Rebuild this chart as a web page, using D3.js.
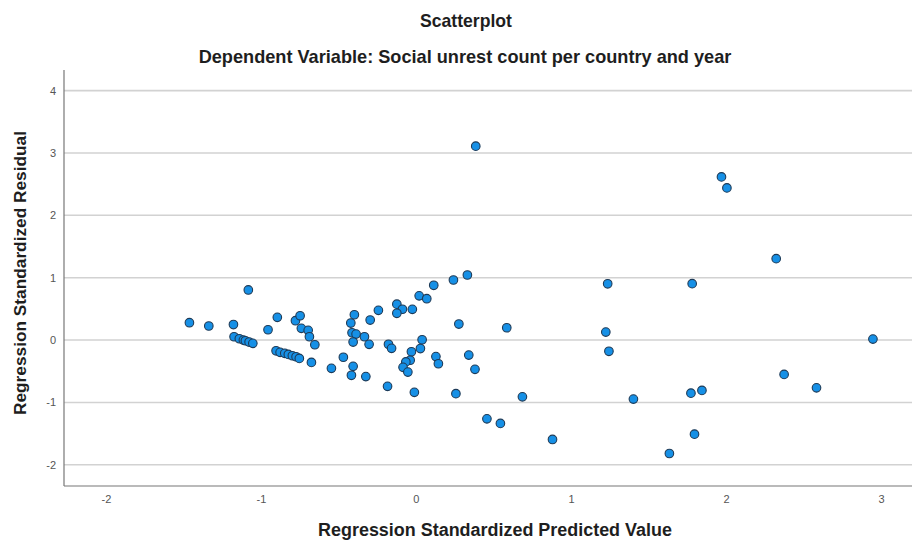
<!DOCTYPE html>
<html>
<head>
<meta charset="utf-8">
<script src="https://cdn.jsdelivr.net/npm/d3@7/dist/d3.min.js"></script>
<style>
  html, body { margin: 0; padding: 0; background: #fff; }
  svg { display: block; }
  text { font-family: "Liberation Sans", Arial, "DejaVu Sans", sans-serif; }
  .narrow { font-family: "Liberation Sans Narrow", "Arial Narrow", "Liberation Sans", Arial, sans-serif; }
</style>
</head>
<body>
<svg id="chart" width="912" height="541"></svg>
<script>
// ---- data ----
const chartTitle = "Scatterplot";
const chartSubtitle = "Dependent Variable: Social unrest count per country and year";
const xLabel = "Regression Standardized Predicted Value";
const yLabel = "Regression Standardized Residual";

const xTicks = [-2, -1, 0, 1, 2, 3];
const yTicks = [-2, -1, 0, 1, 2, 3, 4];

const predicted = [
  -1.461, -1.336, -1.177, -1.081, -1.173, -1.139, -1.113, -1.100, -1.076, -1.052,
  -0.954, -0.894, -0.777, -0.747, -0.739, -0.695, -0.687, -0.652, -0.902, -0.876,
  -0.846, -0.823, -0.797, -0.773, -0.752, -0.674, -0.545, -0.468, -0.420, -0.397,
  -0.412, -0.386, -0.405, -0.405, -0.416, -0.332, -0.302, -0.295, -0.242, -0.323,
  -0.183, -0.177, -0.157, -0.123, -0.087, -0.123, -0.023, 0.021, 0.070, 0.115,
  0.242, 0.332, 0.277, 0.040, 0.029, -0.029, -0.037, -0.065, -0.083, -0.052,
  -0.010, 0.129, 0.145, 0.341, 0.381, 0.258, 0.386, 0.458, 0.545, 0.586,
  0.687, 0.881, 1.237, 1.225, 1.245, 1.403, 1.635, 1.774, 1.782, 1.797,
  1.845, 1.971, 2.006, 2.324, 2.375, 2.584, 2.948
];
const residual = [
  0.278, 0.225, 0.249, 0.803, 0.053, 0.021, 0.000, -0.011, -0.032, -0.053,
  0.165, 0.364, 0.310, 0.390, 0.188, 0.156, 0.053, -0.075, -0.172, -0.197,
  -0.213, -0.230, -0.252, -0.268, -0.294, -0.358, -0.454, -0.276, 0.273, 0.406,
  0.117, 0.096, -0.032, -0.421, -0.565, 0.053, -0.069, 0.321, 0.477, -0.586,
  -0.742, -0.067, -0.133, 0.575, 0.494, 0.429, 0.493, 0.709, 0.663, 0.878,
  0.963, 1.043, 0.257, 0.005, -0.136, -0.188, -0.324, -0.350, -0.437, -0.514,
  -0.838, -0.265, -0.380, -0.241, -0.469, -0.859, 3.109, -1.263, -1.337, 0.197,
  -0.910, -1.594, 0.902, 0.128, -0.180, -0.947, -1.819, -0.851, 0.904, -1.509,
  -0.807, 2.616, 2.440, 1.305, -0.551, -0.766, 0.016
];

// ---- layout ----
const plot = { left: 64, right: 912, top: 70, bottom: 486 };

const x = d3.scaleLinear().domain([-2.27, 3.2]).range([plot.left, plot.right]);
const y = d3.scaleLinear().domain([-2.34, 4.33]).range([plot.bottom, plot.top]);

const svg = d3.select("#chart");

function fitText(sel, targetWidth) {
  const node = sel.node();
  const size = parseFloat(sel.attr("font-size"));
  const len = node.getComputedTextLength();
  if (len > 0) sel.attr("font-size", (size * targetWidth / len).toFixed(2));
}

// titles
const t1 = svg.append("text").attr("class", "narrow")
  .attr("x", 466).attr("y", 27)
  .attr("text-anchor", "middle")
  .attr("font-size", 16).attr("font-weight", "bold").attr("fill", "#1e1e1e")
  .text(chartTitle);
fitText(t1, 92);
const t2 = svg.append("text").attr("class", "narrow")
  .attr("x", 465).attr("y", 63)
  .attr("text-anchor", "middle")
  .attr("font-size", 16).attr("font-weight", "bold").attr("fill", "#1e1e1e")
  .text(chartSubtitle);
fitText(t2, 533);

// grid lines
svg.append("g").selectAll("line")
  .data(yTicks)
  .join("line")
  .attr("x1", plot.left).attr("x2", plot.right)
  .attr("y1", d => y(d)).attr("y2", d => y(d))
  .attr("stroke", "#d2d2d2").attr("stroke-width", 1.6);

const fmt = d => String(d);

// y axis
const yAxis = svg.append("g")
  .attr("transform", `translate(${plot.left},0)`)
  .call(d3.axisLeft(y).tickValues(yTicks).tickSize(0).tickPadding(8).tickFormat(fmt));
yAxis.select(".domain").remove();
yAxis.selectAll("text")
  .attr("font-size", 11).attr("fill", "#555")
  .style("font-family", "'Liberation Sans', Arial, sans-serif");

// x axis
const xAxis = svg.append("g")
  .attr("transform", `translate(0,${plot.bottom})`)
  .call(d3.axisBottom(x).tickValues(xTicks).tickSize(0).tickPadding(9).tickFormat(fmt));
xAxis.select(".domain").remove();
xAxis.selectAll("text")
  .attr("font-size", 11).attr("fill", "#555")
  .style("font-family", "'Liberation Sans', Arial, sans-serif");

// frame lines (left + bottom)
svg.append("line")
  .attr("x1", plot.left).attr("x2", plot.left)
  .attr("y1", plot.top).attr("y2", plot.bottom)
  .attr("stroke", "#777").attr("stroke-width", 1.2);
svg.append("line")
  .attr("x1", plot.left).attr("x2", plot.right)
  .attr("y1", plot.bottom).attr("y2", plot.bottom)
  .attr("stroke", "#777").attr("stroke-width", 1.2);

// axis titles
const xl = svg.append("text").attr("class", "narrow")
  .attr("x", 495).attr("y", 536)
  .attr("text-anchor", "middle")
  .attr("font-size", 17).attr("font-weight", "bold").attr("fill", "#1e1e1e")
  .text(xLabel);
fitText(xl, 354);
const yl = svg.append("text").attr("class", "narrow")
  .attr("transform", `translate(26,${273}) rotate(-90)`)
  .attr("text-anchor", "middle")
  .attr("font-size", 17).attr("font-weight", "bold").attr("fill", "#1e1e1e")
  .text(yLabel);
fitText(yl, 284);

// points
const pts = predicted.map((p, i) => ({ p, r: residual[i] }));
svg.append("g").selectAll("circle")
  .data(pts)
  .join("circle")
  .attr("cx", d => x(d.p))
  .attr("cy", d => y(d.r))
  .attr("r", 4.3)
  .attr("fill", "#1690e6")
  .attr("stroke", "#1d3a57")
  .attr("stroke-width", 1.1);
</script>
</body>
</html>
